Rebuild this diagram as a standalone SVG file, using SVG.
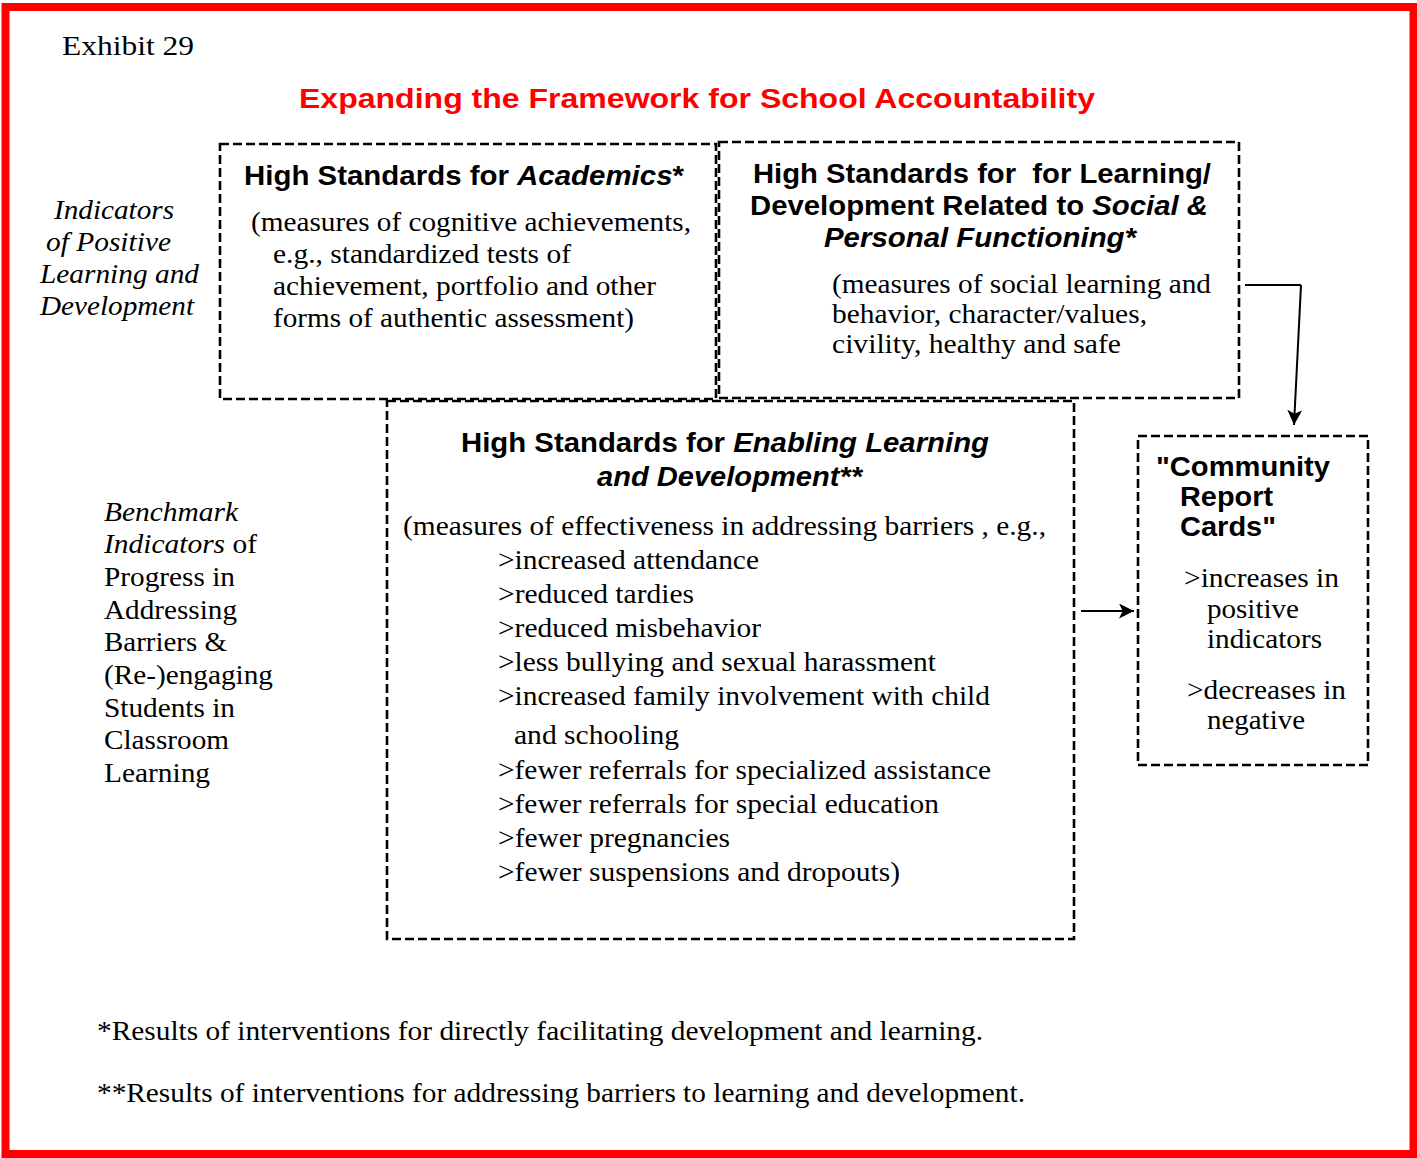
<svg xmlns="http://www.w3.org/2000/svg" width="1417" height="1158" viewBox="0 0 1417 1158">
<style>
.box{fill:none;stroke:#000;stroke-width:2.6;stroke-dasharray:9 4}
.hd{font-family:"Liberation Sans",Arial,sans-serif;font-weight:bold;font-size:27px;fill:#000}
.tx{font-family:"Liberation Serif","Times New Roman",serif;font-size:27px;fill:#000}
.it{font-style:italic}
.ln{stroke:#000;stroke-width:2;fill:none}
</style>
<defs>
<marker id="ah2" viewBox="0 0 12 12" refX="12" refY="6" markerWidth="15" markerHeight="15" orient="auto" markerUnits="userSpaceOnUse">
<path d="M0,0 L12,6 L0,12 L3,6 z" fill="#000"/>
</marker>
</defs>
<rect x="0" y="0" width="1417" height="1158" fill="#fff"/>
<rect x="5.5" y="7" width="1408" height="1147" fill="none" stroke="#ff0000" stroke-width="8"/>

<text class="tx" x="62" y="55" font-size="29" textLength="132" lengthAdjust="spacingAndGlyphs">Exhibit 29</text>
<text class="hd" x="299" y="108" font-size="31" style="fill:#ff0000" textLength="796" lengthAdjust="spacingAndGlyphs">Expanding the Framework for School Accountability</text>

<g id="label-positive">
<text class="tx it" x="54" y="219" textLength="120" lengthAdjust="spacingAndGlyphs">Indicators</text>
<text class="tx it" x="46" y="251" textLength="125" lengthAdjust="spacingAndGlyphs">of Positive</text>
<text class="tx it" x="40" y="283" textLength="159" lengthAdjust="spacingAndGlyphs">Learning and</text>
<text class="tx it" x="40" y="315" textLength="154" lengthAdjust="spacingAndGlyphs">Development</text>
</g>

<g id="label-benchmark">
<text class="tx it" x="104" y="521" textLength="134" lengthAdjust="spacingAndGlyphs">Benchmark</text>
<text class="tx" x="104" y="553" textLength="153" lengthAdjust="spacingAndGlyphs"><tspan class="it">Indicators</tspan> of</text>
<text class="tx" x="104" y="586" textLength="131" lengthAdjust="spacingAndGlyphs">Progress in</text>
<text class="tx" x="104" y="619" textLength="133" lengthAdjust="spacingAndGlyphs">Addressing</text>
<text class="tx" x="104" y="651" textLength="123" lengthAdjust="spacingAndGlyphs">Barriers &amp;</text>
<text class="tx" x="104" y="684" textLength="169" lengthAdjust="spacingAndGlyphs">(Re-)engaging</text>
<text class="tx" x="104" y="717" textLength="131" lengthAdjust="spacingAndGlyphs">Students in</text>
<text class="tx" x="104" y="749" textLength="125" lengthAdjust="spacingAndGlyphs">Classroom</text>
<text class="tx" x="104" y="782" textLength="106" lengthAdjust="spacingAndGlyphs">Learning</text>
</g>

<g id="node-academics">
<rect class="box" x="220" y="144" width="496" height="255"/>
<text class="hd" x="244" y="185" textLength="440" lengthAdjust="spacingAndGlyphs">High Standards for <tspan font-style="italic">Academics</tspan>*</text>
<text class="tx" x="251" y="231" textLength="440" lengthAdjust="spacingAndGlyphs">(measures of cognitive achievements,</text>
<text class="tx" x="273" y="263" textLength="298" lengthAdjust="spacingAndGlyphs">e.g., standardized tests of</text>
<text class="tx" x="273" y="295" textLength="383" lengthAdjust="spacingAndGlyphs">achievement, portfolio and other</text>
<text class="tx" x="273" y="327" textLength="361" lengthAdjust="spacingAndGlyphs">forms of authentic assessment)</text>
</g>

<g id="node-social">
<rect class="box" x="719" y="142" width="520" height="256"/>
<text class="hd" x="753" y="183" textLength="458" lengthAdjust="spacingAndGlyphs" xml:space="preserve">High Standards for  for Learning/</text>
<text class="hd" x="750" y="215" textLength="458" lengthAdjust="spacingAndGlyphs">Development Related to <tspan font-style="italic">Social &amp;</tspan></text>
<text class="hd" x="824" y="247" font-style="italic" textLength="312" lengthAdjust="spacingAndGlyphs">Personal Functioning*</text>
<text class="tx" x="832" y="293" textLength="379" lengthAdjust="spacingAndGlyphs">(measures of social learning and</text>
<text class="tx" x="832" y="323" textLength="315" lengthAdjust="spacingAndGlyphs">behavior, character/values,</text>
<text class="tx" x="832" y="353" textLength="289" lengthAdjust="spacingAndGlyphs">civility, healthy and safe</text>
</g>

<g id="node-enabling">
<rect class="box" x="387" y="401" width="687" height="538"/>
<text class="hd" x="461" y="452" font-size="28" textLength="528" lengthAdjust="spacingAndGlyphs">High Standards for <tspan font-style="italic">Enabling Learning</tspan></text>
<text class="hd" x="597" y="486" font-size="28" font-style="italic" textLength="265" lengthAdjust="spacingAndGlyphs">and Development**</text>
<text class="tx" x="403" y="535" textLength="643" lengthAdjust="spacingAndGlyphs">(measures of effectiveness in addressing barriers , e.g.,</text>
<text class="tx" x="498" y="569" textLength="261" lengthAdjust="spacingAndGlyphs">&gt;increased attendance</text>
<text class="tx" x="498" y="603" textLength="196" lengthAdjust="spacingAndGlyphs">&gt;reduced tardies</text>
<text class="tx" x="498" y="637" textLength="263" lengthAdjust="spacingAndGlyphs">&gt;reduced misbehavior</text>
<text class="tx" x="498" y="671" textLength="438" lengthAdjust="spacingAndGlyphs">&gt;less bullying and sexual harassment</text>
<text class="tx" x="498" y="705" textLength="492" lengthAdjust="spacingAndGlyphs">&gt;increased family involvement with child</text>
<text class="tx" x="514" y="744" textLength="165" lengthAdjust="spacingAndGlyphs">and schooling</text>
<text class="tx" x="498" y="779" textLength="493" lengthAdjust="spacingAndGlyphs">&gt;fewer referrals for specialized assistance</text>
<text class="tx" x="498" y="813" textLength="441" lengthAdjust="spacingAndGlyphs">&gt;fewer referrals for special education</text>
<text class="tx" x="498" y="847" textLength="232" lengthAdjust="spacingAndGlyphs">&gt;fewer pregnancies</text>
<text class="tx" x="498" y="881" textLength="402" lengthAdjust="spacingAndGlyphs">&gt;fewer suspensions and dropouts)</text>
</g>

<g id="node-community">
<rect class="box" x="1138" y="436" width="230" height="329"/>
<text class="hd" x="1156" y="476" textLength="174" lengthAdjust="spacingAndGlyphs">"Community</text>
<text class="hd" x="1180" y="506" textLength="93" lengthAdjust="spacingAndGlyphs">Report</text>
<text class="hd" x="1180" y="536" textLength="96" lengthAdjust="spacingAndGlyphs">Cards"</text>
<text class="tx" x="1184" y="587" textLength="155" lengthAdjust="spacingAndGlyphs">&gt;increases in</text>
<text class="tx" x="1207" y="618" textLength="92" lengthAdjust="spacingAndGlyphs">positive</text>
<text class="tx" x="1207" y="648" textLength="115" lengthAdjust="spacingAndGlyphs">indicators</text>
<text class="tx" x="1187" y="699" textLength="159" lengthAdjust="spacingAndGlyphs">&gt;decreases in</text>
<text class="tx" x="1207" y="729" textLength="98" lengthAdjust="spacingAndGlyphs">negative</text>
</g>

<g id="connectors">
<path class="ln" d="M1245,285 L1301,285"/>
<path class="ln" d="M1301,285 L1294,425" stroke-width="1.6" marker-end="url(#ah2)"/>
<path class="ln" d="M1081,611 L1134,611" marker-end="url(#ah2)"/>
</g>

<text class="tx" x="97" y="1040" textLength="886" lengthAdjust="spacingAndGlyphs">*Results of interventions for directly facilitating development and learning.</text>
<text class="tx" x="97" y="1102" textLength="928" lengthAdjust="spacingAndGlyphs">**Results of interventions for addressing barriers to learning and development.</text>
</svg>
